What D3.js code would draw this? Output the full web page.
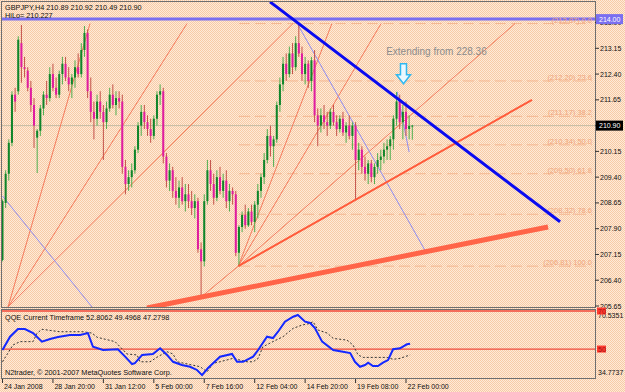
<!DOCTYPE html>
<html>
<head>
<meta charset="utf-8">
<script src="https://cdn.jsdelivr.net/npm/d3@7"></script>
<style>
html, body { margin: 0; padding: 0; background: #fde6cf; }
svg { display: block; font-family: "Liberation Sans", Arial, sans-serif; }
</style>
</head>
<body>
<svg id="chart" width="625" height="392"></svg>
<script>
// GBPJPY H4 candles, [open, high, low, close], one per bar from 24 Jan 2008
const candles = [
  [206.99, 208.75, 206.95, 208.70], [208.65, 209.60, 208.50, 209.50], [209.50, 210.50, 209.30, 210.40],
  [210.40, 211.90, 210.30, 211.80], [211.80, 212.00, 211.30, 211.60], [211.90, 213.50, 211.80, 213.40],
  [213.30, 213.83, 212.15, 212.60], [212.60, 212.90, 212.30, 212.55], [212.50, 212.60, 211.90, 212.00],
  [212.00, 212.20, 211.30, 211.50], [211.50, 211.70, 210.25, 210.90], [210.55, 210.80, 209.52, 210.75],
  [210.75, 211.50, 210.60, 211.40], [211.40, 211.90, 211.20, 211.80], [211.80, 212.20, 211.50, 211.70],
  [211.70, 212.60, 211.60, 212.40], [212.40, 212.70, 211.90, 212.00], [212.00, 212.30, 211.70, 211.80],
  [211.80, 212.50, 211.70, 212.40], [212.40, 212.90, 212.10, 212.70], [212.70, 212.90, 212.20, 212.30],
  [212.30, 212.60, 211.90, 212.10], [212.10, 212.40, 211.70, 212.30], [212.30, 212.80, 212.00, 212.60],
  [212.60, 213.00, 212.30, 212.40], [212.40, 213.30, 212.30, 213.10], [213.10, 213.80, 212.90, 213.60],
  [213.60, 213.70, 211.70, 211.90], [211.90, 212.30, 211.00, 211.30], [211.30, 211.60, 210.50, 211.10],
  [211.10, 211.80, 210.90, 211.60], [211.60, 211.90, 211.10, 211.30], [211.30, 211.50, 209.90, 211.00],
  [211.00, 211.60, 210.80, 211.40], [211.40, 212.00, 211.30, 211.80], [211.80, 212.10, 211.40, 211.50],
  [211.50, 211.90, 211.20, 211.70], [211.70, 211.90, 211.40, 211.60], [211.60, 211.80, 209.50, 209.70],
  [209.70, 209.90, 208.90, 209.20], [209.20, 209.60, 209.00, 209.40], [209.40, 209.80, 209.10, 209.60],
  [209.60, 210.30, 209.50, 210.20], [210.20, 211.00, 210.10, 210.90], [210.90, 211.50, 210.60, 211.30],
  [211.30, 211.50, 210.80, 211.00], [211.00, 211.20, 210.60, 210.80], [210.80, 211.10, 210.40, 210.60],
  [210.60, 211.20, 210.50, 211.10], [211.10, 211.90, 210.90, 211.80], [211.80, 212.10, 211.50, 211.90],
  [211.90, 212.00, 209.80, 210.00], [210.00, 210.10, 209.10, 209.30], [209.30, 209.80, 209.00, 209.60],
  [209.60, 209.70, 208.80, 209.00], [209.00, 209.40, 208.60, 208.80], [208.80, 209.30, 208.50, 209.10],
  [209.10, 209.40, 208.60, 208.70], [208.70, 209.20, 208.40, 208.90], [208.90, 209.20, 208.50, 208.70],
  [208.70, 209.00, 208.30, 208.50], [208.50, 208.90, 208.20, 208.70], [208.70, 208.80, 207.20, 207.30],
  [207.30, 207.50, 205.91, 206.95], [206.95, 208.90, 206.80, 208.70], [208.70, 209.90, 208.60, 209.60],
  [209.60, 209.90, 209.00, 209.20], [209.20, 209.50, 208.60, 208.80], [208.80, 209.60, 208.70, 209.40],
  [209.40, 209.70, 208.90, 209.00], [209.00, 209.50, 208.80, 209.30], [209.30, 209.60, 208.50, 208.70],
  [208.70, 209.20, 208.40, 209.00], [209.00, 209.10, 208.60, 208.90], [208.90, 209.00, 207.10, 207.20],
  [207.20, 208.00, 206.81, 207.95], [207.95, 208.40, 207.80, 208.30], [208.30, 208.60, 207.90, 208.00],
  [208.00, 208.50, 207.95, 208.40], [208.40, 208.60, 208.00, 208.10], [208.10, 208.70, 207.80, 208.60],
  [208.60, 209.20, 208.20, 209.00], [209.00, 209.50, 208.80, 209.40], [209.40, 210.10, 209.20, 209.90],
  [209.90, 210.80, 209.80, 210.60], [210.60, 210.90, 210.00, 210.30], [210.30, 210.60, 209.70, 210.50],
  [210.50, 211.60, 210.40, 211.50], [211.50, 212.30, 211.30, 212.10], [212.10, 212.90, 211.90, 212.70],
  [212.70, 213.00, 212.20, 212.40], [212.40, 213.20, 212.30, 213.00], [213.00, 213.30, 212.40, 212.60],
  [212.60, 213.50, 212.50, 213.30], [213.30, 213.87, 212.90, 213.00], [213.00, 213.20, 212.20, 212.40],
  [212.40, 212.90, 212.10, 212.70], [212.70, 212.80, 212.00, 212.20], [212.20, 212.90, 211.90, 212.80],
  [212.80, 213.10, 211.00, 211.20], [211.20, 211.40, 210.30, 210.90], [210.90, 211.40, 210.70, 211.20],
  [211.20, 211.50, 210.80, 211.00], [211.00, 211.30, 210.60, 210.90], [210.90, 211.40, 210.80, 211.30],
  [211.30, 211.50, 210.90, 211.00], [211.00, 211.20, 210.60, 210.80], [210.80, 211.20, 210.70, 211.10],
  [211.10, 211.30, 210.60, 210.70], [210.70, 211.00, 210.40, 210.90], [210.90, 211.20, 210.50, 210.60],
  [210.60, 211.00, 210.20, 210.90], [210.90, 211.00, 208.75, 209.90], [209.90, 210.40, 209.60, 210.20],
  [210.20, 210.30, 209.50, 209.70], [209.70, 210.00, 209.30, 209.50], [209.50, 209.90, 209.20, 209.80],
  [209.80, 209.90, 209.25, 209.40], [209.40, 209.80, 209.20, 209.70], [209.70, 210.10, 209.50, 209.90],
  [209.90, 210.20, 209.60, 210.00], [210.00, 210.40, 209.80, 210.20], [210.20, 210.50, 209.90, 210.30],
  [210.30, 210.60, 209.90, 210.50], [210.50, 211.20, 210.20, 211.10], [211.10, 211.88, 210.90, 211.60],
  [211.60, 211.80, 210.80, 211.00], [211.00, 211.50, 210.50, 211.30], [211.30, 211.60, 210.60, 210.80],
  [210.80, 211.20, 210.50, 210.89], [210.89, 210.92, 210.49, 210.90]
];

const timeTicks = [0, 16, 32, 48, 64, 80, 96, 112, 128];
const timeLabels = ["24 Jan 2008", "28 Jan 20:00", "31 Jan 12:00", "5 Feb 00:00", "7 Feb 16:00",
                    "12 Feb 04:00", "14 Feb 20:00", "19 Feb 08:00", "22 Feb 00:00"];
const priceTicks = [213.90, 213.15, 212.40, 211.65, 210.90, 210.15, 209.40, 208.65, 207.90, 207.15, 206.40, 205.65];

const fibLevels = [213.87, 212.20, 211.17, 210.34, 209.50, 208.32, 206.81];
const fibPcts = ["0.0", "23.6", "38.2", "50.0", "61.8", "78.6", "100.0"];
const fibStartBar = 75;

const resistLevel = 214.00;
const bidPrice = 210.90;

// trendlines as [[bar, price], [bar, price]]
const blueTrend = [[84.87, 214.50], [176.87, 208.10]];
const supportTrend = [[45.84, 205.59], [173.06, 207.95]];
const lowTrend = [[74.8, 206.81], [167.99, 211.65]];
const fanLeft = [
  [[1.75, 205.62], [27.76, 213.87]],
  [[1.75, 205.62], [58.53, 213.87]],
  [[1.75, 205.62], [92.16, 213.87]]
];
const fanLow = [
  [[63.0, 205.91], [74.8, 206.81]],
  [[74.8, 206.81], [104.5, 213.87]],
  [[74.8, 206.81], [120.1, 213.87]],
  [[74.8, 206.81], [162.6, 213.87]]
];
const thinBlue = [
  [[0, 208.85], [28.4, 205.62]],
  [[93.75, 213.83], [134.7, 207.16]],
  [[125.2, 211.88], [129.0, 210.13]]
];

// QQE indicator, [bar, value]
const qqeFast = [
  [0, 49.5], [2.4, 56.5], [4.9, 60.5], [7.1, 60.5], [9.7, 58.4], [12.5, 53.9], [15.1, 55.3],
  [17.6, 56.3], [21.4, 57.4], [24.6, 57.4], [27.1, 58.4], [28.7, 51.2], [31.9, 49.5], [36.6, 49.9],
  [38.9, 46.0], [41.1, 42.1], [42.0, 42.6], [44.3, 46.9], [47.7, 47.4], [50.0, 50.4], [52.2, 46.9],
  [54.1, 43.3], [56.9, 41.6], [59.5, 40.7], [61.7, 39.0], [63.3, 36.3], [65.2, 40.0], [69.0, 46.0],
  [72.8, 47.4], [74.4, 43.3], [76.3, 43.3], [79.5, 46.0], [81.1, 49.5], [83.9, 56.5], [85.8, 55.8],
  [87.4, 59.1], [89.6, 64.4], [92.2, 67.0], [93.7, 67.9], [96.0, 64.4], [97.6, 63.7], [99.1, 61.0],
  [100.7, 56.0], [101.4, 53.9], [104.9, 49.5], [108.0, 48.6], [110.3, 47.9], [111.8, 43.3],
  [113.4, 40.7], [115.0, 41.6], [116.0, 42.8], [117.5, 41.1], [119.1, 41.1], [120.7, 42.8],
  [122.3, 44.2], [123.9, 49.9], [126.1, 50.4], [128.3, 52.5], [129.3, 52.8]
];
const qqeSlow = [
  [0, 43.3], [3.3, 52.1], [5.6, 53.9], [9.7, 53.9], [10.9, 58.2], [12.5, 60.4], [18.2, 59.1],
  [25.5, 59.1], [28.4, 58.4], [30.0, 56.2], [35.7, 53.9], [37.3, 51.2], [39.5, 47.4], [42.7, 46.9],
  [43.6, 43.3], [46.8, 43.3], [49.3, 46.0], [52.2, 48.6], [54.1, 47.4], [55.4, 43.3], [62.7, 40.7],
  [64.9, 38.0], [66.8, 42.5], [69.0, 43.3], [73.1, 45.1], [77.6, 43.3], [79.5, 43.3], [81.1, 45.1],
  [82.6, 51.2], [85.8, 53.9], [89.0, 56.5], [92.2, 60.9], [95.0, 62.6], [97.6, 63.5], [98.5, 64.4],
  [100.1, 60.0], [103.0, 58.4], [104.9, 55.6], [109.3, 54.7], [111.2, 52.1], [112.8, 46.9],
  [114.4, 45.6], [122.0, 45.6], [123.9, 44.6], [126.1, 45.1], [129.3, 46.9]
];
const qqeLevels = [70, 50];
const qqeRange = [34.7737, 70.5351];

const svg = d3.select('#chart');

// dithered peach background
const defs = svg.append('defs');
const pat = defs.append('pattern').attr('id', 'dither')
    .attr('width', 2).attr('height', 2).attr('patternUnits', 'userSpaceOnUse');
pat.append('rect').attr('width', 2).attr('height', 2).attr('fill', '#feead8');
pat.append('rect').attr('x', 0).attr('y', 0).attr('width', 1).attr('height', 1).attr('fill', '#f7cba6');
pat.append('rect').attr('x', 1).attr('y', 1).attr('width', 1).attr('height', 1).attr('fill', '#f7cba6');
svg.append('rect').attr('width', 625).attr('height', 392).attr('fill', 'url(#dither)');

defs.append('clipPath').attr('id', 'clipMain')
    .append('rect').attr('x', 2).attr('y', 2).attr('width', 593).attr('height', 305);
defs.append('clipPath').attr('id', 'clipInd')
    .append('rect').attr('x', 2).attr('y', 310).attr('width', 593).attr('height', 68);

// scales
const x = d3.scaleLinear().domain([0, 128]).range([2.5, 406]);
const y = d3.scaleLinear().domain([205.65, 213.15]).range([306, 48.3]);
const yq = d3.scaleLinear().domain(qqeRange).range([378, 310]);

const main = svg.append('g').attr('clip-path', 'url(#clipMain)');

// horizontal resistance line
main.append('line')
    .attr('x1', 2).attr('x2', 595).attr('y1', y(resistLevel)).attr('y2', y(resistLevel))
    .attr('stroke', '#7a6ff0').attr('stroke-width', 3);

// fib levels
fibLevels.forEach((lv, k) => {
    main.append('line')
        .attr('x1', x(fibStartBar)).attr('x2', 592).attr('y1', y(lv)).attr('y2', y(lv))
        .attr('stroke', '#f4b690').attr('stroke-width', 1).attr('stroke-dasharray', '11,5');
    main.append('text')
        .attr('x', 592).attr('y', y(lv) - 1)
        .attr('text-anchor', 'end').attr('font-size', 7.5).attr('fill', '#f0a57c')
        .text(`(${lv.toFixed(2)}) ${fibPcts[k]}`);
});

// bid line
main.append('line')
    .attr('x1', 2).attr('x2', 595).attr('y1', y(bidPrice)).attr('y2', y(bidPrice))
    .attr('stroke', '#c4bca4').attr('stroke-width', 1);

const seg = s => main.append('line')
    .attr('x1', x(s[0][0])).attr('y1', y(s[0][1]))
    .attr('x2', x(s[1][0])).attr('y2', y(s[1][1]));

// thin fan lines
fanLeft.concat(fanLow).forEach(s => seg(s).attr('stroke', '#f47a5c').attr('stroke-width', 1));
thinBlue.forEach(s => seg(s).attr('stroke', '#8f8cf0').attr('stroke-width', 1));

// candles
const bars = main.append('g');
candles.forEach((d, i) => {
    const [o, h, l, c] = d;
    const up = c >= o;
    bars.append('line')
        .attr('x1', x(i)).attr('x2', x(i)).attr('y1', y(h)).attr('y2', y(l))
        .attr('stroke', up ? '#4fae4f' : '#c4524a').attr('stroke-width', 1);
    const top = y(Math.max(o, c));
    const hgt = Math.max(1, Math.abs(y(o) - y(c)));
    bars.append('rect')
        .attr('x', x(i) - 1).attr('y', top).attr('width', 2).attr('height', hgt)
        .attr('fill', up ? '#0f852a' : '#e01ca0');
});

// trendlines
seg(lowTrend).attr('stroke', '#ff5a3a').attr('stroke-width', 2);
seg(supportTrend).attr('stroke', '#ff6448').attr('stroke-width', 5);
seg(blueTrend).attr('stroke', '#0a0af0').attr('stroke-width', 3);

// annotation
main.append('text')
    .attr('x', x(121.7)).attr('y', y(212.3) - 23)
    .attr('font-size', 10).attr('fill', '#8c8c8c')
    .text('Extending from 228.36');
const ax = x(127.2), ay = y(212.12);
main.append('path')
    .attr('d', `M${ax - 3},${ay - 20} L${ax + 3},${ay - 20} L${ax + 3},${ay - 9} L${ax + 7},${ay - 9}
                L${ax},${ay} L${ax - 7},${ay - 9} L${ax - 3},${ay - 9} Z`)
    .attr('fill', '#eaf8ff').attr('stroke', '#30b8f0').attr('stroke-width', 1.5);

// header texts
svg.append('text').attr('x', 5).attr('y', 10).attr('font-size', 7.3).attr('fill', '#111')
    .text('GBPJPY,H4  210.89 210.92 210.49 210.90');
svg.append('text').attr('x', 5).attr('y', 18).attr('font-size', 7.3).attr('fill', '#111')
    .text('HiLo= 210.227');

// indicator panel
const ind = svg.append('g').attr('clip-path', 'url(#clipInd)');
qqeLevels.forEach(v => {
    ind.append('line').attr('x1', 2).attr('x2', 595).attr('y1', yq(v)).attr('y2', yq(v))
        .attr('stroke', '#f0483a').attr('stroke-width', 1.3);
});
const qline = d3.line().x(d => x(d[0])).y(d => yq(d[1]));
ind.append('path').datum(qqeSlow).attr('d', qline)
    .attr('fill', 'none').attr('stroke', '#333').attr('stroke-width', 1).attr('stroke-dasharray', '2,2');
ind.append('path').datum(qqeFast).attr('d', qline)
    .attr('fill', 'none').attr('stroke', '#1428ff').attr('stroke-width', 2);

svg.append('text').attr('x', 5).attr('y', 320).attr('font-size', 7.3).attr('fill', '#111')
    .text('QQE Current Timeframe 52.8062 49.4968 47.2798');
svg.append('text').attr('x', 5).attr('y', 374.5).attr('font-size', 7.3).attr('fill', '#111')
    .text('N2trader, \u00a9 2001-2007 MetaQuotes Software Corp.');

// frames
const frame = svg.append('g').attr('fill', 'none').attr('stroke', '#6e6e6e').attr('stroke-width', 1);
frame.append('rect').attr('x', 1.5).attr('y', 1.5).attr('width', 594).attr('height', 306);
frame.append('rect').attr('x', 1.5).attr('y', 309.5).attr('width', 594).attr('height', 69);

// price axis
priceTicks.forEach(p => {
    svg.append('line').attr('x1', 595).attr('x2', 599).attr('y1', y(p)).attr('y2', y(p))
        .attr('stroke', '#333');
    svg.append('text').attr('x', 600).attr('y', y(p) + 2.5)
        .attr('font-size', 7).attr('fill', '#111').text(p.toFixed(2));
});
const tag = (py, fill, txt) => {
    svg.append('rect').attr('x', 596).attr('y', py - 5).attr('width', 27).attr('height', 10).attr('fill', fill);
    svg.append('text').attr('x', 599).attr('y', py + 2.5).attr('font-size', 7).attr('fill', '#fff').text(txt);
};
tag(y(resistLevel), '#7a6ff0', resistLevel.toFixed(2));
tag(y(bidPrice), '#000', bidPrice.toFixed(2));

// indicator axis
svg.append('text').attr('x', 598).attr('y', 317.5).attr('font-size', 7).attr('fill', '#111')
    .text(qqeRange[1].toFixed(4));
svg.append('text').attr('x', 598).attr('y', 374.5).attr('font-size', 7).attr('fill', '#111')
    .text(qqeRange[0].toFixed(4));
qqeLevels.forEach(v => {
    svg.append('rect').attr('x', 597).attr('y', yq(v) - 3.5).attr('width', 9).attr('height', 7)
        .attr('fill', '#ff3b30');
    svg.append('text').attr('x', 598).attr('y', yq(v) + 2.5).attr('font-size', 7).attr('fill', '#a01010')
        .text(v);
});

// time axis
timeTicks.forEach((t, k) => {
    svg.append('line').attr('x1', x(t)).attr('x2', x(t)).attr('y1', 379).attr('y2', 383)
        .attr('stroke', '#333');
    svg.append('text').attr('x', x(t) + 1.5).attr('y', 388.5)
        .attr('font-size', 7).attr('fill', '#111').text(timeLabels[k]);
});
</script>
</body>
</html>
